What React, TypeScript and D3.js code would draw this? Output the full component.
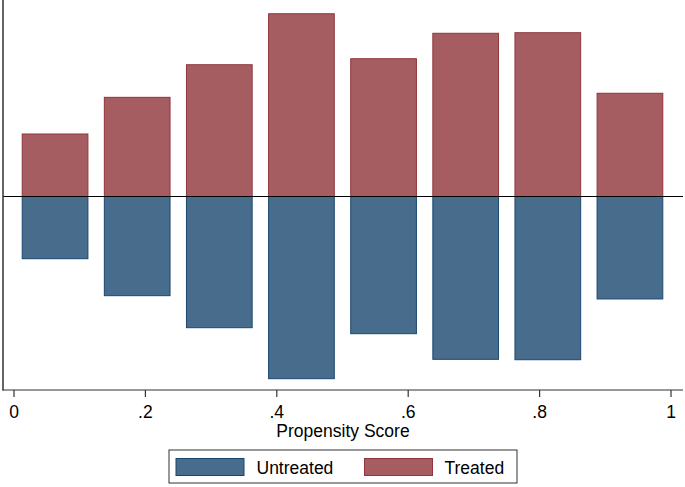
import React from "react";
import * as d3 from "d3";

const binCenters = [0.0625, 0.1875, 0.3125, 0.4375, 0.5625, 0.6875, 0.8125, 0.9375];
const treated = [0.646, 1.025, 1.362, 1.889, 1.424, 1.687, 1.693, 1.067];
const untreated = [0.643, 1.025, 1.356, 1.883, 1.418, 1.683, 1.687, 1.059];
const xTicks = [0, 0.2, 0.4, 0.6, 0.8, 1];
const xTickLabels = ["0", ".2", ".4", ".6", ".8", "1"];
const seriesNames = ["Untreated", "Treated"];

const W = 685;
const H = 487;
const FONT = "'Liberation Sans', Arial, Helvetica, sans-serif";
const NAVY = "#1a476f";
const MAROON = "#90353b";
const BAR_W = 0.1;

export default function App() {
  const x = d3.scaleLinear().domain([0, 1]).range([14, 671]);
  const y = d3.scaleLinear().domain([-2, 2]).range([390, 3]);
  const y0 = y(0);
  const bw = x(BAR_W) - x(0);

  return (
    <svg
      width={W}
      height={H}
      style={{ position: "absolute", left: 0, top: 0, background: "#fff" }}
      fontFamily={FONT}
    >
      <rect x={0} y={0} width={W} height={H} fill="#fff" />
      {binCenters.map((c, i) => (
        <g key={i}>
          <rect
            x={x(c) - bw / 2}
            y={y(treated[i])}
            width={bw}
            height={y0 - y(treated[i])}
            fill={MAROON}
            fillOpacity={0.8}
            stroke={MAROON}
            strokeWidth={1}
          />
          <rect
            x={x(c) - bw / 2}
            y={y0}
            width={bw}
            height={y(-untreated[i]) - y0}
            fill={NAVY}
            fillOpacity={0.8}
            stroke={NAVY}
            strokeWidth={1}
          />
        </g>
      ))}
      {/* zero line */}
      <line x1={3} x2={683} y1={y0} y2={y0} stroke="#000" strokeWidth={1} />
      {/* axes */}
      <line x1={3} x2={3} y1={0} y2={390.5} stroke="#333" strokeWidth={1.5} />
      <line x1={2.5} x2={683} y1={390} y2={390} stroke="#333" strokeWidth={1.2} />
      {xTicks.map((t, i) => (
        <g key={t}>
          <line x1={x(t)} x2={x(t)} y1={390} y2={397} stroke="#333" strokeWidth={1.2} />
          <text x={x(t)} y={418} textAnchor="middle" fontSize={17.5} fill="#000">
            {xTickLabels[i]}
          </text>
        </g>
      ))}
      <text x={343} y={437} textAnchor="middle" fontSize={17.5} fill="#000">
        Propensity Score
      </text>
      {/* legend */}
      <rect x={169} y={450} width={348} height={33} fill="#fff" stroke="#333" strokeWidth={1} />
      <rect x={176} y={458.5} width={68} height={17} fill={NAVY} fillOpacity={0.8} stroke={NAVY} strokeWidth={1} />
      <text x={256.5} y={474} fontSize={17.5} fill="#000">{seriesNames[0]}</text>
      <rect x={364.5} y={458.5} width={68} height={17} fill={MAROON} fillOpacity={0.8} stroke={MAROON} strokeWidth={1} />
      <text x={444.5} y={474} fontSize={17.5} fill="#000">{seriesNames[1]}</text>
    </svg>
  );
}
